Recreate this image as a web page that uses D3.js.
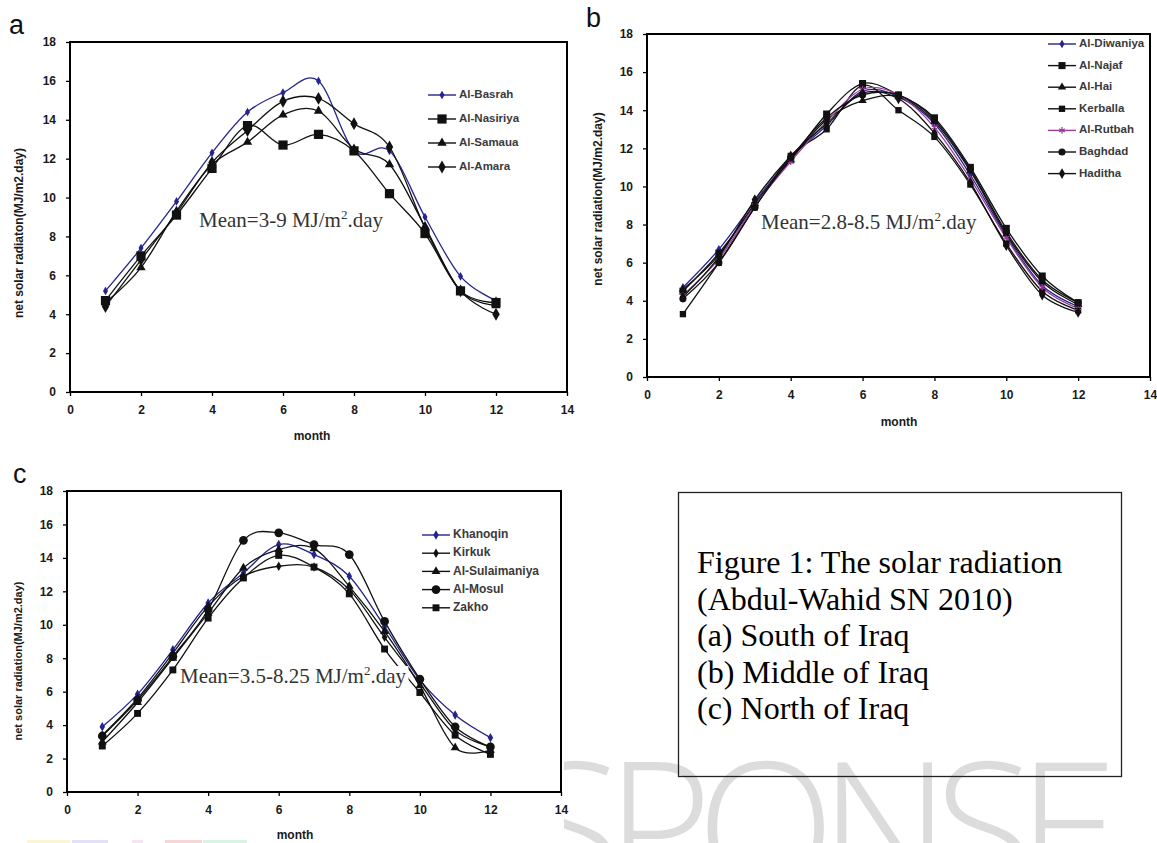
<!DOCTYPE html>
<html><head><meta charset="utf-8">
<script src="https://cdn.jsdelivr.net/npm/d3@7"></script>
<style>html,body{margin:0;padding:0;background:#fff;}svg{display:block;}</style>
</head><body>
<script>
// ---------- DATA ----------
const months = [1,2,3,4,5,6,7,8,9,10,11,12];
const xTickValues = [0,2,4,6,8,10,12,14];
const yTickValues = [0,2,4,6,8,10,12,14,16,18];

// (a) South of Iraq
const alBasrah   = [5.2, 7.4, 9.8, 12.3, 14.4, 15.4, 16.0, 12.4, 12.4, 9.0, 5.95, 4.7];
const alNasiriya = [4.7, 7.0, 9.1, 11.5, 13.7, 12.7, 13.25, 12.4, 10.2, 8.15, 5.2, 4.6];
const alSamaua   = [4.6, 6.4, 9.3, 11.7, 12.85, 14.25, 14.45, 12.5, 11.7, 8.5, 5.2, 4.45];
const alAmara    = [4.4, 6.8, 9.2, 11.8, 13.45, 14.95, 15.1, 13.8, 12.6, 8.45, 5.2, 4.0];

// (b) Middle of Iraq
const alDiwaniya = [4.7, 6.7, 9.2, 11.5, 13.2, 15.0, 14.7, 13.3, 10.6, 7.4, 4.8, 3.7];
const alNajaf    = [4.5, 6.5, 9.0, 11.4, 13.8, 15.4, 14.8, 13.6, 11.0, 7.8, 5.3, 3.9];
const alHai      = [4.6, 6.4, 9.1, 11.4, 13.5, 14.5, 14.7, 13.4, 10.8, 7.5, 5.0, 3.8];
const kerballa   = [3.3, 6.0, 8.9, 11.6, 13.0, 15.3, 14.0, 12.6, 10.1, 7.0, 4.5, 3.5];
const alRutbah   = [4.3, 6.2, 9.0, 11.3, 13.4, 15.1, 14.8, 13.1, 10.4, 7.3, 4.7, 3.6];
const baghdad    = [4.1, 6.0, 8.9, 11.5, 13.6, 14.8, 14.8, 13.5, 10.9, 7.6, 5.1, 3.9];
const haditha    = [4.2, 6.3, 9.3, 11.6, 13.3, 14.9, 14.6, 12.8, 10.2, 6.9, 4.3, 3.4];

// (c) North of Iraq
const khanoqin      = [3.9, 5.85, 8.5, 11.3, 13.1, 14.8, 14.2, 12.9, 9.9, 6.7, 4.6, 3.25];
const kirkuk        = [3.4, 5.6, 8.3, 11.1, 12.9, 13.5, 13.45, 12.1, 9.25, 6.5, 3.7, 2.7];
const alSulaimaniya = [3.0, 5.35, 8.0, 10.7, 13.4, 14.5, 14.55, 12.3, 9.6, 6.35, 2.65, 2.5];
const alMosul       = [3.35, 5.5, 8.1, 10.9, 15.05, 15.5, 14.8, 14.2, 10.2, 6.75, 3.9, 2.7];
const zakho         = [2.75, 4.7, 7.3, 10.4, 12.8, 14.15, 13.45, 11.85, 8.55, 5.95, 3.4, 2.25];

const captionLines = ["Figure 1: The solar radiation", "(Abdul-Wahid SN 2010)", "(a) South of Iraq", "(b) Middle of Iraq", "(c) North of Iraq"];
const watermarkWord = "SPONSE";

// ---------- DRAW ----------
const W = 1157, H = 843;
const svg = d3.select("body").append("svg").attr("width", W).attr("height", H);
const defs = svg.append("defs");
svg.append("rect").attr("width", W).attr("height", H).attr("fill", "#fff");

const SANS = "'Liberation Sans', Arial, sans-serif";
const SERIF = "'Liberation Serif', 'Times New Roman', serif";
const WMFONT = "'Open Sans', Lato, sans-serif";
const BLUE = "#24248e", PURPLE = "#9c3c9c", DARK = "#111";

// watermark (partly hidden behind panel c)
defs.append("clipPath").attr("id", "wmclip").append("rect")
  .attr("x", 564).attr("y", 700).attr("width", 600).attr("height", 150);
const wm = svg.append("g").attr("clip-path", "url(#wmclip)");
function measure(txt, fs) {
  const t = wm.append("text").attr("font-family", WMFONT).attr("font-weight", 300)
    .attr("font-size", fs).text(txt);
  const w = t.node().getComputedTextLength();
  t.remove();
  return w;
}
const oW = measure("O", 100);
const wmFs = 100 * 139 / oW;
const natRest = measure(watermarkWord.slice(1), wmFs);
const pStart = 606, eEnd = 1118;
const ls = (eEnd - pStart - natRest) / (watermarkWord.length - 2);
const sW = measure(watermarkWord[0], wmFs);
wm.append("text").attr("x", pStart - ls - sW).attr("y", 763 + 0.715 * wmFs)
  .attr("font-family", WMFONT).attr("font-weight", 300).attr("font-size", wmFs)
  .attr("letter-spacing", ls).attr("fill", "#dcdcdc").text(watermarkWord);

// faint colour strip at bottom
const strip = [[27, 43, "#fbf6d0"], [72, 36, "#e4e0f6"], [132, 11, "#f6e6f4"], [165, 37, "#f8d6d6"], [203, 44, "#d9f4e2"]];
svg.selectAll("rect.strip").data(strip).join("rect").attr("class", "strip")
  .attr("x", d => d[0]).attr("y", 840).attr("width", d => d[1]).attr("height", 3).attr("fill", d => d[2]);

function symPath(type, size) {
  const map = {
    diamond: d3.symbolDiamond, square: d3.symbolSquare, triangle: d3.symbolTriangle,
    circle: d3.symbolCircle, asterisk: d3.symbolAsterisk || d3.symbolCross
  };
  return d3.symbol().type(map[type]).size(size)();
}

function drawPanel(cfg) {
  const g = svg.append("g");
  const x = d3.scaleLinear().domain([0, 14]).range([cfg.x0, cfg.x1]);
  const y = d3.scaleLinear().domain([0, 18]).range([cfg.y0, cfg.y1]);

  g.append("text").attr("x", cfg.letterX).attr("y", cfg.letterY)
    .attr("font-family", SANS).attr("font-size", 27).attr("fill", "#111").text(cfg.letter);

  const xa = g.append("g").attr("transform", `translate(0,${cfg.y0})`)
    .call(d3.axisBottom(x).tickValues(xTickValues).tickSize(4).tickPadding(9).tickSizeOuter(0));
  const ya = g.append("g").attr("transform", `translate(${cfg.x0},0)`)
    .call(d3.axisLeft(y).tickValues(yTickValues).tickSize(4).tickPadding(10).tickSizeOuter(0));
  [xa, ya].forEach(a => {
    a.select(".domain").remove();
    a.selectAll("line").attr("stroke", "#000").attr("stroke-width", 1.3);
    a.selectAll("text").attr("font-family", SANS).attr("font-weight", "bold")
      .attr("font-size", 12).attr("fill", "#1a1a1a");
  });

  g.append("rect").attr("x", cfg.x0).attr("y", cfg.y1)
    .attr("width", cfg.x1 - cfg.x0).attr("height", cfg.y0 - cfg.y1)
    .attr("fill", "none").attr("stroke", "#000").attr("stroke-width", 2);

  g.append("text").attr("x", cfg.xtX).attr("y", cfg.xtY).attr("text-anchor", "middle")
    .attr("dominant-baseline", "middle")
    .attr("font-family", SANS).attr("font-weight", "bold").attr("font-size", 12).attr("fill", "#1a1a1a")
    .text("month");
  g.append("text").attr("transform", `translate(${cfg.ytX},${cfg.ytY}) rotate(-90)`)
    .attr("text-anchor", "middle").attr("dominant-baseline", "middle")
    .attr("font-family", SANS).attr("font-weight", "bold").attr("font-size", cfg.ytSize).attr("fill", "#1a1a1a")
    .text(cfg.yTitle);

  const line = d3.line().x((d, i) => x(months[i])).y(d => y(d)).curve(d3.curveCardinal.tension(0));
  const plot = g.append("g");
  cfg.series.forEach(s => {
    plot.append("path").attr("d", line(s.values)).attr("fill", "none")
      .attr("stroke", s.color).attr("stroke-width", 1.3);
  });
  cfg.series.forEach(s => {
    plot.append("g").selectAll("path").data(s.values).join("path")
      .attr("transform", (d, i) => `translate(${x(months[i])},${y(d)})`)
      .attr("d", symPath(s.marker, s.size))
      .attr("fill", s.marker === "asterisk" ? "none" : s.color)
      .attr("stroke", s.marker === "asterisk" ? s.color : "none").attr("stroke-width", 1.2);
  });

  // mean annotation on a white background
  const bg = g.append("rect").attr("fill", "#fff");
  const mt = g.append("text").attr("x", cfg.meanX).attr("y", cfg.meanY)
    .attr("font-family", SERIF).attr("font-size", 21).attr("fill", "#333");
  mt.append("tspan").text(cfg.meanA);
  mt.append("tspan").attr("font-size", 13).attr("dy", -8).text("2");
  mt.append("tspan").attr("dy", 8).text(".day");
  const bb = mt.node().getBBox();
  bg.attr("x", bb.x - 2).attr("y", bb.y + 3).attr("width", bb.width + 4).attr("height", bb.height - 4);

  const lg = g.append("g");
  cfg.series.forEach((s, i) => {
    const ly = cfg.legY + i * cfg.legDy;
    lg.append("line").attr("x1", cfg.legX0).attr("x2", cfg.legX1).attr("y1", ly).attr("y2", ly)
      .attr("stroke", s.color).attr("stroke-width", 1.4);
    lg.append("path").attr("transform", `translate(${(cfg.legX0 + cfg.legX1) / 2},${ly})`)
      .attr("d", symPath(s.marker, s.size))
      .attr("fill", s.marker === "asterisk" ? "none" : s.color)
      .attr("stroke", s.marker === "asterisk" ? s.color : "none").attr("stroke-width", 1.2);
    lg.append("text").attr("x", cfg.legX1 + 3).attr("y", ly).attr("dominant-baseline", "middle")
      .attr("font-family", SANS).attr("font-weight", "bold").attr("font-size", cfg.legSize).attr("fill", "#3a3a3a")
      .text(s.name);
  });
}

drawPanel({
  letter: "a", letterX: 9, letterY: 34,
  x0: 70, x1: 567, y0: 392, y1: 42,
  xtX: 312, xtY: 437, ytX: 20, ytY: 233, ytSize: 12, yTitle: "net solar radiaton(MJ/m2.day)",
  meanX: 199, meanY: 227, meanA: "Mean=3-9 MJ/m",
  legX0: 428, legX1: 456, legY: 95, legDy: 24, legSize: 11.5,
  series: [
    { name: "Al-Basrah", values: alBasrah, color: BLUE, marker: "diamond", size: 22 },
    { name: "Al-Nasiriya", values: alNasiriya, color: DARK, marker: "square", size: 85 },
    { name: "Al-Samaua", values: alSamaua, color: DARK, marker: "triangle", size: 38 },
    { name: "Al-Amara", values: alAmara, color: DARK, marker: "diamond", size: 48 }
  ]
});

drawPanel({
  letter: "b", letterX: 586, letterY: 27,
  x0: 647, x1: 1150, y0: 377, y1: 34,
  xtX: 899, xtY: 423, ytX: 599, ytY: 199, ytSize: 12, yTitle: "net solar radiation(MJ/m2.day)",
  meanX: 761, meanY: 229, meanA: "Mean=2.8-8.5 MJ/m",
  legX0: 1048, legX1: 1076, legY: 44, legDy: 21.6, legSize: 11.5,
  series: [
    { name: "Al-Diwaniya", values: alDiwaniya, color: BLUE, marker: "diamond", size: 22 },
    { name: "Al-Najaf", values: alNajaf, color: DARK, marker: "square", size: 50 },
    { name: "Al-Hai", values: alHai, color: DARK, marker: "triangle", size: 30 },
    { name: "Kerballa", values: kerballa, color: DARK, marker: "square", size: 40 },
    { name: "Al-Rutbah", values: alRutbah, color: PURPLE, marker: "asterisk", size: 30 },
    { name: "Baghdad", values: baghdad, color: DARK, marker: "circle", size: 40 },
    { name: "Haditha", values: haditha, color: DARK, marker: "diamond", size: 34 }
  ]
});

drawPanel({
  letter: "c", letterX: 13, letterY: 483,
  x0: 67, x1: 561, y0: 792, y1: 491,
  xtX: 295, xtY: 836, ytX: 19, ytY: 661, ytSize: 11, yTitle: "net solar radiation(MJ/m2.day)",
  meanX: 180, meanY: 683, meanA: "Mean=3.5-8.25 MJ/m",
  legX0: 422, legX1: 450, legY: 535, legDy: 18.2, legSize: 12,
  series: [
    { name: "Khanoqin", values: khanoqin, color: BLUE, marker: "diamond", size: 26 },
    { name: "Kirkuk", values: kirkuk, color: DARK, marker: "diamond", size: 26 },
    { name: "Al-Sulaimaniya", values: alSulaimaniya, color: DARK, marker: "triangle", size: 34 },
    { name: "Al-Mosul", values: alMosul, color: DARK, marker: "circle", size: 60 },
    { name: "Zakho", values: zakho, color: DARK, marker: "square", size: 48 }
  ]
});

// caption box
svg.append("rect").attr("x", 678.5).attr("y", 492.5).attr("width", 443).attr("height", 284)
  .attr("fill", "none").attr("stroke", "#222").attr("stroke-width", 1.3);
svg.append("g").selectAll("text").data(captionLines).join("text")
  .attr("x", 697).attr("y", (d, i) => 573 + i * 36.6)
  .attr("font-family", SERIF).attr("font-size", 32).attr("fill", "#000").text(d => d);
</script>
</body></html>
